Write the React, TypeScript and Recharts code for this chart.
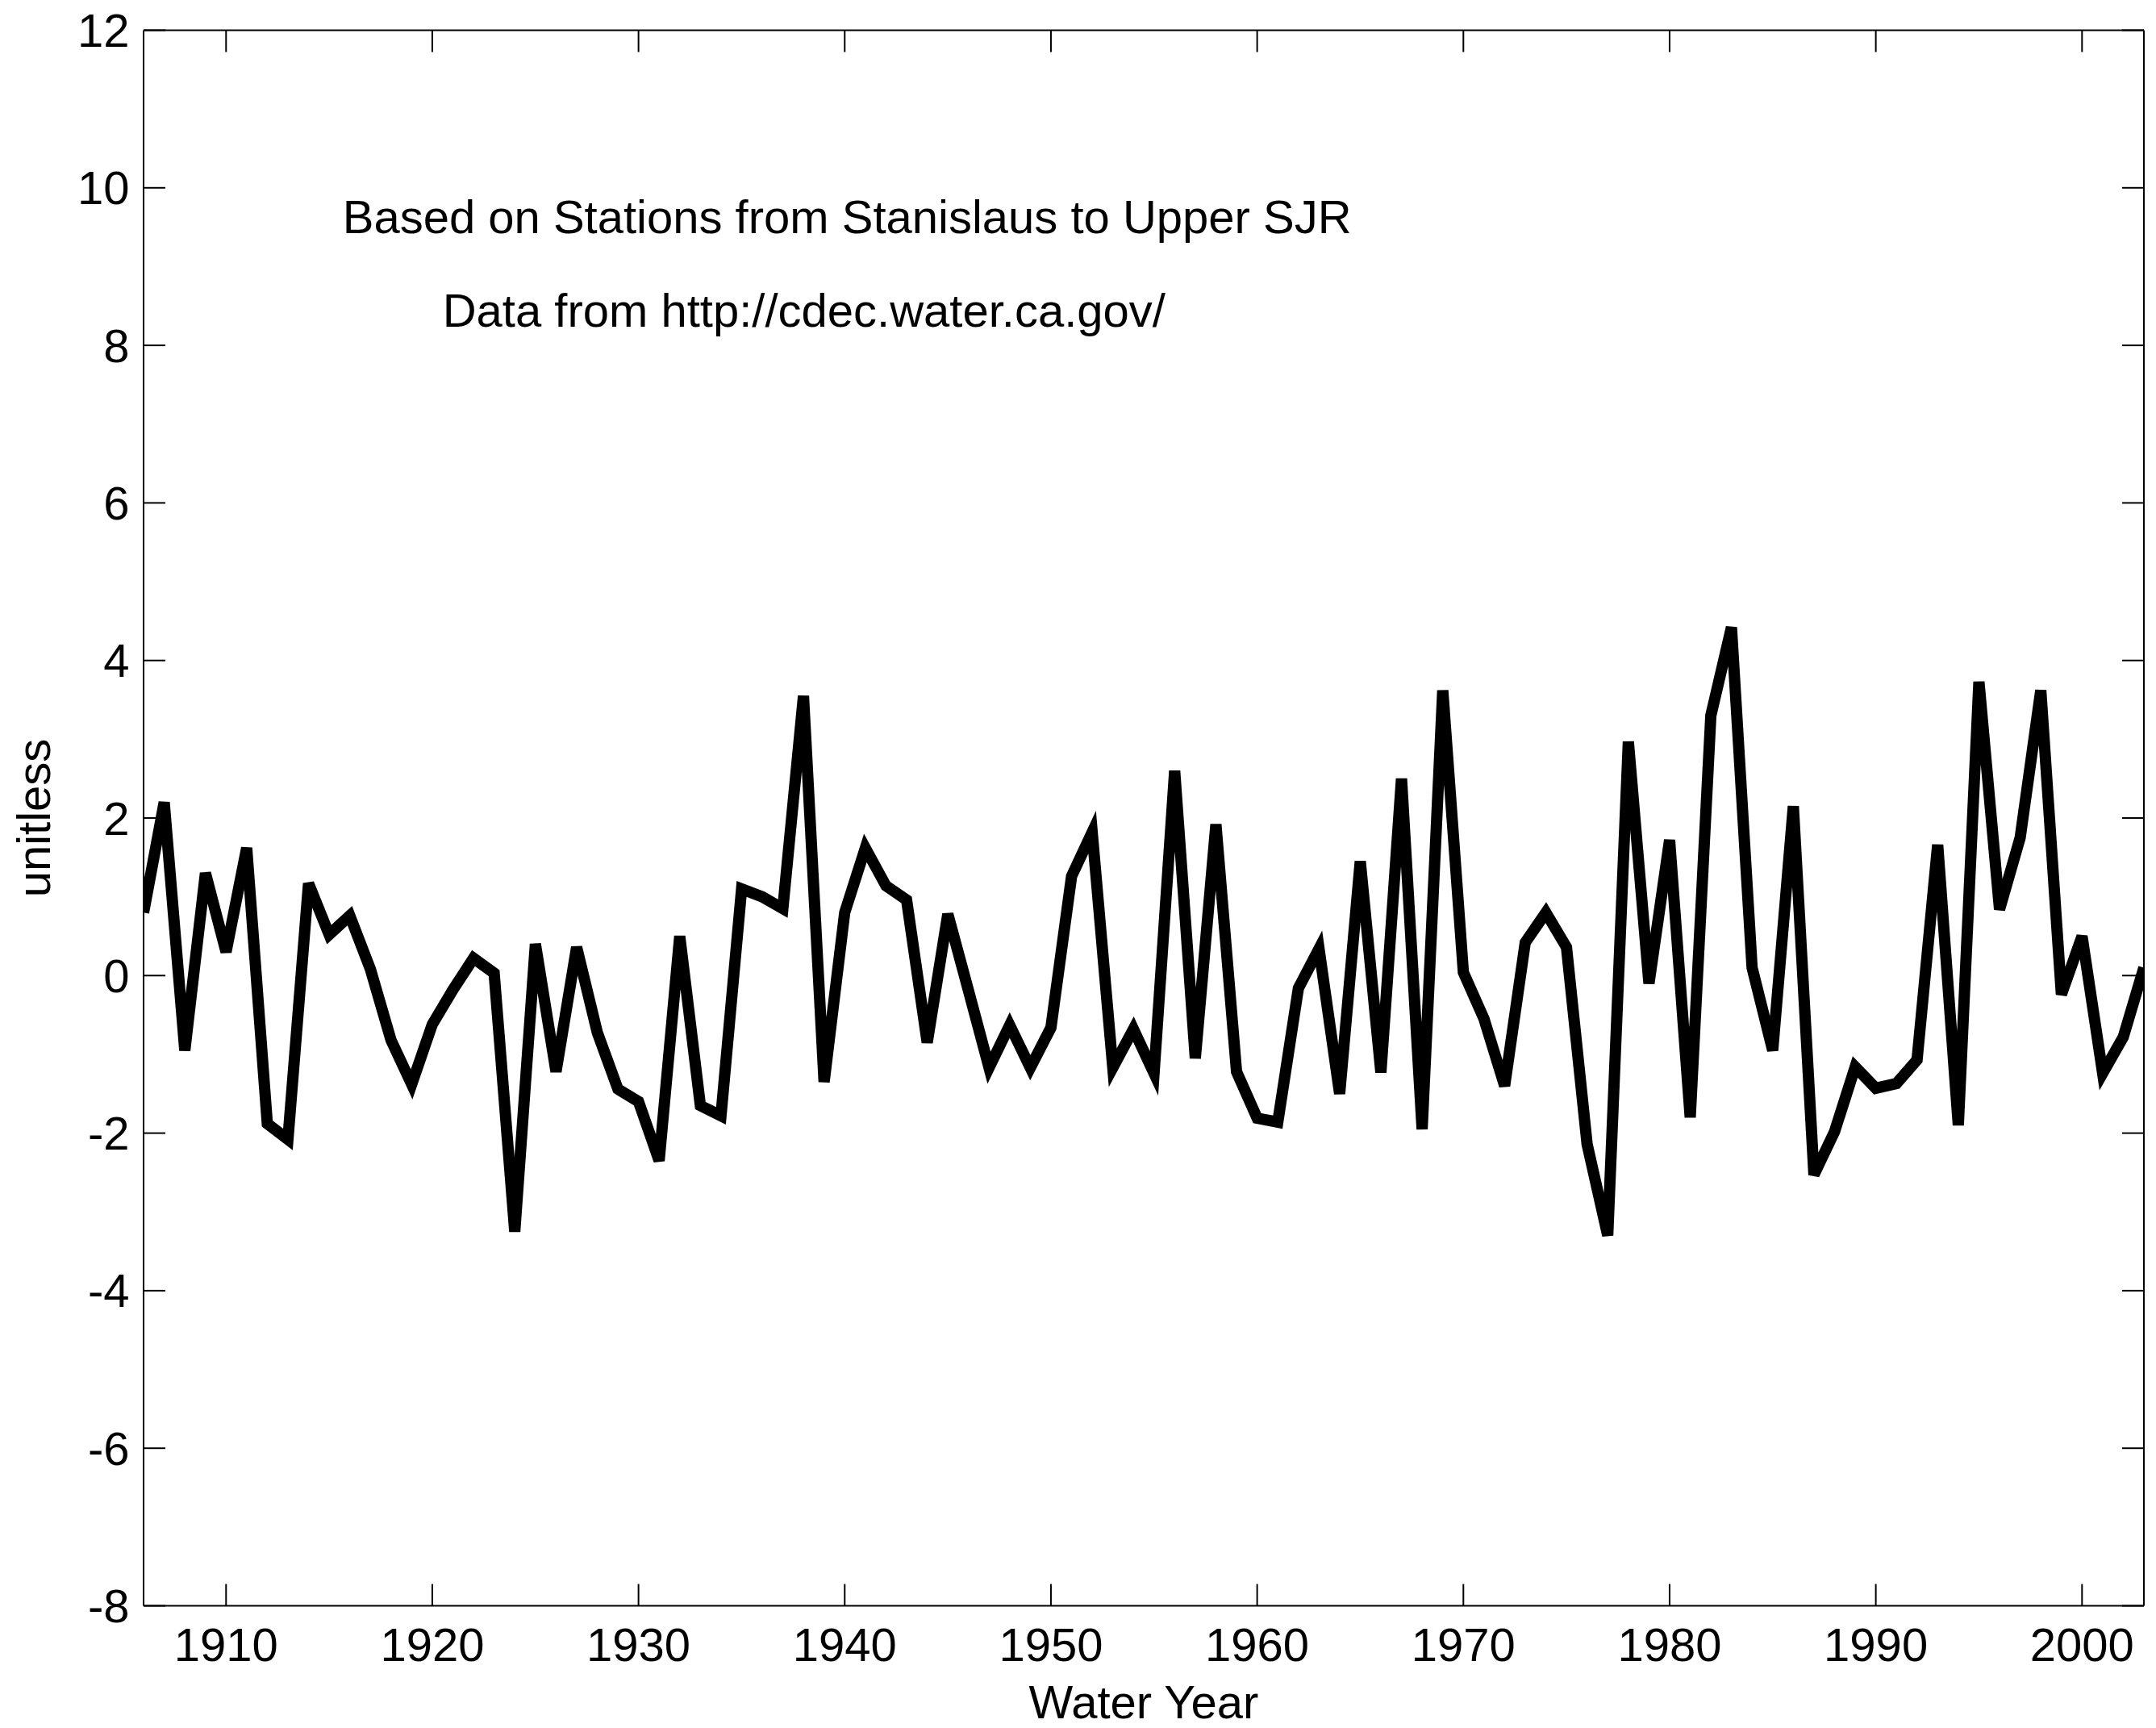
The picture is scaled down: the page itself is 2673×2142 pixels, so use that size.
import React from 'react';
import { LineChart, Line, XAxis, YAxis, ReferenceDot } from 'recharts';

const years = [
  1906, 1907, 1908, 1909, 1910, 1911, 1912, 1913, 1914, 1915,
  1916, 1917, 1918, 1919, 1920, 1921, 1922, 1923, 1924, 1925,
  1926, 1927, 1928, 1929, 1930, 1931, 1932, 1933, 1934, 1935,
  1936, 1937, 1938, 1939, 1940, 1941, 1942, 1943, 1944, 1945,
  1946, 1947, 1948, 1949, 1950, 1951, 1952, 1953, 1954, 1955,
  1956, 1957, 1958, 1959, 1960, 1961, 1962, 1963, 1964, 1965,
  1966, 1967, 1968, 1969, 1970, 1971, 1972, 1973, 1974, 1975,
  1976, 1977, 1978, 1979, 1980, 1981, 1982, 1983, 1984, 1985,
  1986, 1987, 1988, 1989, 1990, 1991, 1992, 1993, 1994, 1995,
  1996, 1997, 1998, 1999, 2000, 2001, 2002, 2003,
];

const indexValues = [
  0.8, 2.2, -0.95, 1.3, 0.3, 1.62, -1.88, -2.08, 1.17, 0.52,
  0.76, 0.08, -0.82, -1.38, -0.62, -0.18, 0.22, 0.03, -3.25, 0.4,
  -1.22, 0.36, -0.72, -1.44, -1.6, -2.35, 0.5, -1.65, -1.78, 1.1,
  1.0, 0.85, 3.55, -1.35, 0.8, 1.62, 1.14, 0.96, -0.85, 0.78,
  -0.19, -1.17, -0.63, -1.17, -0.66, 1.26, 1.82, -1.17, -0.68, -1.24,
  2.6, -1.05, 1.92, -1.22, -1.81, -1.86, -0.16, 0.34, -1.5, 1.45,
  -1.23, 2.5, -1.95, 3.62, 0.04, -0.55, -1.4, 0.42, 0.8, 0.36,
  -2.14, -3.3, 2.97, -0.1, 1.72, -1.8, 3.3, 4.42, 0.1, -0.95,
  2.15, -2.53, -1.98, -1.16, -1.43, -1.37, -1.07, 1.66, -1.9, 3.73,
  0.84, 1.75, 3.62, -0.24, 0.5, -1.24, -0.78, 0.1,
];

const xTicks = [1910, 1920, 1930, 1940, 1950, 1960, 1970, 1980, 1990, 2000];
const yTicks = [-8, -6, -4, -2, 0, 2, 4, 6, 8, 10, 12];

const noteTexts = [
  'Based on Stations from Stanislaus to Upper SJR',
  'Data from http://cdec.water.ca.gov/',
];
const noteYears = [1915.65, 1920.5];
const noteValues = [9.425, 8.236];

const xLabel = 'Water Year';
const yLabel = 'unitless';

const data = years.map((year, i) => ({ year, v: indexValues[i] }));

const FONT = '"Liberation Sans", Arial, Helvetica, sans-serif';
const FS = 58;
const TICK = 27;

const BottomTick = (p: any) => (
  <g>
    <line x1={p.x} x2={p.x} y1={p.y} y2={p.y - TICK} stroke="#000" strokeWidth={2} />
    <text x={p.x} y={p.y + 68.5} textAnchor="middle" fontFamily={FONT} fontSize={FS} fill="#000">
      {p.payload.value}
    </text>
  </g>
);

const TopTick = (p: any) => (
  <line x1={p.x} x2={p.x} y1={p.y} y2={p.y + TICK} stroke="#000" strokeWidth={2} />
);

const LeftTick = (p: any) => (
  <g>
    <line x1={p.x} x2={p.x + TICK} y1={p.y} y2={p.y} stroke="#000" strokeWidth={2} />
    <text x={p.x - 17.5} y={p.y} dy="0.355em" textAnchor="end" fontFamily={FONT} fontSize={FS} fill="#000">
      {p.payload.value}
    </text>
  </g>
);

const RightTick = (p: any) => (
  <line x1={p.x} x2={p.x - TICK} y1={p.y} y2={p.y} stroke="#000" strokeWidth={2} />
);

const XTitle = (props: any) => {
  const vb = props.viewBox || { x: 178, y: 1990.5, width: 2480, height: 151.5 };
  return (
    <text x={vb.x + vb.width / 2} y={vb.y + 139.5} textAnchor="middle" fontFamily={FONT} fontSize={FS} fill="#000">
      {xLabel}
    </text>
  );
};

const YTitle = (props: any) => {
  const vb = props.viewBox || { x: 0, y: 37.5, width: 178, height: 1953 };
  const cx = vb.x + 62;
  const cy = vb.y + vb.height / 2;
  return (
    <text
      x={cx}
      y={cy}
      transform={`rotate(-90, ${cx}, ${cy})`}
      textAnchor="middle"
      fontFamily={FONT}
      fontSize={FS}
      fill="#000"
    >
      {yLabel}
    </text>
  );
};

const NoteLabel = (props: any) => {
  const vb = props.viewBox || { x: 0, y: 0 };
  return (
    <text x={vb.x} y={vb.y} fontFamily={FONT} fontSize={FS} fill="#000">
      {props.text}
    </text>
  );
};

export default function App() {
  return (
    <div style={{ width: 2673, height: 2142, background: '#fff', overflow: 'hidden' }}>
      <style>{'html,body{margin:0;padding:0;overflow:hidden;background:#fff}'}</style>
      <LineChart
        width={2673}
        height={2142}
        data={data}
        margin={{ top: 36.5, right: 14, bottom: 0, left: 0 }}
      >
        <XAxis
          xAxisId="b"
          dataKey="year"
          type="number"
          domain={[1906, 2003]}
          ticks={xTicks}
          allowDataOverflow
          orientation="bottom"
          height={151.5}
          tickSize={0}
          tickMargin={0}
          tickLine={false}
          axisLine={{ stroke: '#000', strokeWidth: 2 }}
          tick={BottomTick}
          interval={0}
          label={XTitle}
        />
        <XAxis
          xAxisId="t"
          dataKey="year"
          type="number"
          domain={[1906, 2003]}
          ticks={xTicks}
          allowDataOverflow
          orientation="top"
          height={1}
          tickSize={0}
          tickMargin={0}
          tickLine={false}
          axisLine={{ stroke: '#000', strokeWidth: 2 }}
          tick={TopTick}
          interval={0}
        />
        <YAxis
          yAxisId="l"
          type="number"
          domain={[-8, 12]}
          ticks={yTicks}
          allowDataOverflow
          orientation="left"
          width={178}
          tickSize={0}
          tickMargin={0}
          tickLine={false}
          axisLine={{ stroke: '#000', strokeWidth: 2 }}
          tick={LeftTick}
          interval={0}
          label={YTitle}
        />
        <YAxis
          yAxisId="r"
          type="number"
          domain={[-8, 12]}
          ticks={yTicks}
          allowDataOverflow
          orientation="right"
          width={1}
          tickSize={0}
          tickMargin={0}
          tickLine={false}
          axisLine={{ stroke: '#000', strokeWidth: 2 }}
          tick={RightTick}
          interval={0}
        />
        <Line
          xAxisId="b"
          yAxisId="l"
          type="linear"
          dataKey="v"
          stroke="#000"
          strokeWidth={14}
          dot={false}
          activeDot={false}
          isAnimationActive={false}
        />
        {noteTexts.map((t, i) => (
          <ReferenceDot
            key={t}
            xAxisId="b"
            yAxisId="l"
            x={noteYears[i]}
            y={noteValues[i]}
            r={0}
            fill="none"
            stroke="none"
            label={<NoteLabel text={t} />}
          />
        ))}
      </LineChart>
    </div>
  );
}
